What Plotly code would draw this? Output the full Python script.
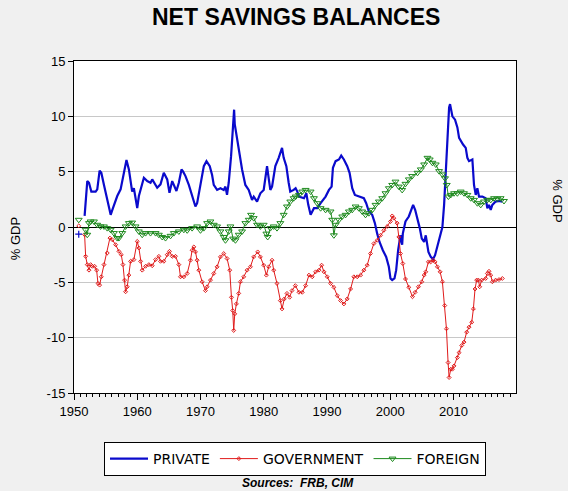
import plotly.graph_objects as go

# values (% of GDP); first point of each series is the lone early reading
private_years = [1950.75, None, 1951.68, 1952.10, 1952.37, 1952.74, 1953.42, 1953.68, 1954.05, 1954.32, 1954.74,
                 1955.10, 1955.53, 1955.80, 1956.16, 1956.84, 1957.37, 1957.90, 1958.30, 1958.68, 1959.20,
                 1959.47, 1960.00, 1960.26, 1960.79, 1961.05, 1961.58, 1962.10, 1962.37, 1963.16, 1963.68,
                 1964.20, 1964.74, 1965.10, 1965.53, 1966.20, 1966.58, 1967.00, 1967.26, 1967.63, 1968.16,
                 1968.95, 1969.20, 1969.47, 1970.00, 1970.53, 1970.95, 1971.47, 1971.84, 1972.10, 1972.63,
                 1973.16, 1973.68, 1973.95, 1974.20, 1974.47, 1974.84, 1975.16, 1975.32, 1975.42, 1975.63,
                 1975.90, 1976.32, 1976.58, 1977.10, 1977.63, 1978.16, 1978.42, 1978.95, 1979.47, 1980.00,
                 1980.26, 1980.53, 1980.79, 1981.05, 1981.32, 1981.84, 1982.37, 1982.90, 1983.16, 1983.58,
                 1983.95, 1984.20, 1984.74, 1985.05, 1985.32, 1985.58, 1986.37, 1986.74, 1987.05, 1987.42,
                 1987.95, 1988.47, 1989.00, 1989.79, 1990.32, 1990.74, 1990.95, 1991.37, 1991.90, 1992.26,
                 1992.68, 1993.21, 1993.58, 1994.00, 1994.42, 1995.05, 1995.84, 1996.21, 1996.63, 1997.16,
                 1997.58, 1997.95, 1998.32, 1998.84, 1999.37, 1999.79, 2000.05, 2000.32, 2000.68, 2000.95,
                 2001.26, 2001.63, 2001.90, 2002.00, 2002.42, 2002.95, 2003.42, 2003.63, 2003.95, 2004.32,
                 2004.68, 2005.00, 2005.37, 2005.63, 2005.79, 2006.05, 2006.42, 2006.79, 2007.10, 2007.47,
                 2007.84, 2008.26, 2008.53, 2008.79, 2009.05, 2009.32, 2009.47, 2009.84, 2010.26, 2010.63,
                 2010.90, 2011.16, 2011.53, 2011.95, 2012.21, 2012.47, 2013.00, 2013.26, 2013.53, 2013.79,
                 2014.05, 2014.58, 2015.10, 2015.37, 2015.63, 2015.90, 2016.16, 2016.68, 2017.20, 2017.74]
private_vals = [-0.65, None, 1.0, 4.15, 4.0, 3.2, 3.2, 3.4, 5.1, 4.9, 3.8,
                2.8, 1.6, 1.1, 1.7, 2.8, 3.4, 4.9, 6.05, 5.2, 3.2,
                3.5, 1.7, 2.8, 3.85, 4.45, 4.15, 4.0, 4.3, 3.55, 3.85,
                4.9, 4.3, 3.1, 4.15, 3.25, 4.0, 5.2, 5.0, 4.6, 3.8,
                2.45, 1.85, 2.15, 3.8, 5.5, 5.95, 5.5, 4.7, 3.8, 3.35,
                3.5, 3.35, 3.65, 2.9, 4.0, 6.4, 9.3, 10.6, 9.3, 8.5,
                7.9, 6.25, 5.2, 3.8, 3.35, 2.45, 2.75, 2.3, 3.05, 3.35,
                4.6, 5.5, 4.4, 3.35, 3.65, 5.5, 6.25, 7.15, 6.25, 5.5,
                4.0, 3.2, 3.35, 3.5, 3.2, 2.75, 2.6, 3.05, 2.0, 1.1,
                1.7, 1.7, 2.15, 2.75, 3.35, 3.65, 5.35, 5.95, 6.1, 6.45,
                6.1, 5.5, 4.9, 3.5, 2.9, 2.75, 2.6, 2.15, 1.4, 1.1,
                0.35, -0.6, -1.35, -2.1, -2.7, -3.6, -4.65, -4.8, -4.65, -3.9,
                -2.1, -0.75, -1.6, -0.6, 0.5, 0.95, 1.7, 2.0, 1.55, 0.8,
                -0.1, -1.05, -1.35, -0.75, -1.35, -2.25, -2.7, -2.9, -2.55, -1.65,
                -0.75, 0.0, 2.0, 5.05, 8.35, 10.8, 11.1, 10.0, 9.7, 9.0,
                8.05, 7.75, 7.45, 7.15, 6.25, 5.95, 6.1, 3.8, 2.9, 3.5,
                2.75, 2.75, 2.6, 1.7, 2.0, 1.55, 2.0, 2.3, 2.35, 2.3]

gov_years = [1950.75, None, 1951.68, 1951.84, 1952.10, 1952.37, 1952.63, 1952.90, 1953.26, 1953.58, 1953.79,
             1954.05, 1954.32, 1954.74, 1955.26, 1955.68, 1956.05, 1956.58, 1957.10, 1957.47, 1957.74,
             1958.00, 1958.16, 1958.42, 1958.68, 1958.95, 1959.47, 1960.00, 1960.26, 1960.53, 1960.79,
             1961.32, 1961.84, 1962.37, 1962.90, 1963.42, 1963.68, 1964.21, 1964.74, 1965.10, 1965.53,
             1966.05, 1966.58, 1966.84, 1967.37, 1967.90, 1968.42, 1968.68, 1968.95, 1969.21, 1969.47,
             1969.74, 1970.26, 1970.79, 1971.05, 1971.58, 1972.10, 1972.63, 1973.16, 1973.68, 1974.21,
             1974.63, 1974.90, 1975.10, 1975.26, 1975.42, 1975.68, 1976.05, 1976.32, 1976.84, 1977.37,
             1977.90, 1978.42, 1979.05, 1979.47, 1980.00, 1980.42, 1980.79, 1981.32, 1981.58, 1982.10,
             1982.63, 1982.90, 1983.26, 1983.68, 1984.10, 1984.47, 1985.00, 1985.58, 1986.10, 1986.63,
             1987.16, 1987.68, 1988.21, 1988.74, 1989.16, 1989.53, 1990.05, 1990.58, 1991.10, 1991.63,
             1992.16, 1992.68, 1993.21, 1993.74, 1994.26, 1994.79, 1995.32, 1995.84, 1996.37, 1996.89,
             1997.42, 1997.95, 1998.47, 1999.00, 1999.53, 2000.05, 2000.32, 2000.58, 2001.10, 2001.37,
             2001.63, 2002.00, 2002.42, 2002.95, 2003.53, 2003.95, 2004.47, 2005.00, 2005.37, 2005.63,
             2006.05, 2006.42, 2006.79, 2007.10, 2007.47, 2007.90, 2008.26, 2008.63, 2008.90, 2009.16,
             2009.32, 2009.58, 2009.84, 2010.10, 2010.63, 2010.90, 2011.32, 2011.68, 2012.10, 2012.47,
             2012.90, 2013.16, 2013.42, 2013.68, 2013.95, 2014.16, 2014.47, 2015.10, 2015.37, 2015.63,
             2015.90, 2016.16, 2016.68, 2017.21, 2017.74]
gov_vals = [0.1, None, -0.7, -2.65, -3.4, -3.9, -3.4, -3.55, -3.55, -3.9, -5.1,
            -5.25, -4.5, -3.4, -2.35, -1.0, -1.15, -1.6, -2.2, -2.5, -3.4,
            -4.8, -5.85, -5.4, -4.35, -3.1, -2.95, -1.3, -1.9, -3.1, -3.9,
            -3.55, -3.4, -3.5, -2.95, -2.65, -3.1, -3.1, -2.5, -2.2, -2.65,
            -2.65, -3.4, -4.5, -4.5, -4.2, -3.0, -2.1, -1.8, -2.25, -3.0,
            -3.9, -4.95, -5.75, -5.4, -4.8, -4.2, -3.6, -2.7, -2.4, -2.85,
            -3.9, -6.35, -7.55, -9.35, -7.85, -6.95, -6.0, -4.95, -4.5, -3.9,
            -3.6, -2.7, -2.25, -2.7, -3.45, -4.35, -3.6, -3.0, -3.9, -5.1,
            -6.65, -7.4, -6.5, -6.0, -6.35, -5.75, -5.3, -5.9, -5.9, -5.3,
            -4.35, -4.5, -4.05, -3.9, -3.45, -4.05, -4.5, -5.1, -5.45, -6.2,
            -6.65, -6.95, -6.5, -5.6, -4.5, -4.5, -4.35, -3.9, -3.45, -2.4,
            -1.5, -1.2, -0.75, -0.3, 0.05, 0.5, 1.0, 0.8, 0.35, -0.9,
            -2.4, -3.3, -4.7, -5.45, -6.3, -5.9, -5.4, -4.95, -4.35, -4.05,
            -3.15, -3.15, -3.0, -3.15, -3.6, -4.05, -4.95, -7.1, -9.2, -12.25,
            -13.6, -12.85, -12.85, -12.55, -11.8, -11.35, -10.7, -10.4, -9.5, -9.05,
            -8.6, -7.4, -5.6, -4.8, -4.8, -5.4, -4.8, -4.65, -4.2, -4.0,
            -4.35, -4.95, -4.8, -4.75, -4.65]

foreign_years = [1950.75, None, 1951.84, 1952.10, 1952.37, 1952.63, 1953.16, 1953.68, 1954.20, 1954.74, 1955.26,
                 1955.79, 1956.32, 1956.84, 1957.10, 1957.63, 1958.16, 1958.68, 1959.20, 1959.74, 1960.26,
                 1960.79, 1961.32, 1962.10, 1962.90, 1963.42, 1963.95, 1964.47, 1965.26, 1965.79, 1966.58,
                 1967.37, 1967.90, 1968.68, 1969.47, 1970.00, 1970.53, 1971.05, 1971.58, 1972.10, 1972.63,
                 1973.16, 1973.68, 1973.95, 1974.47, 1974.74, 1975.16, 1975.53, 1976.05, 1976.58, 1977.10,
                 1977.63, 1978.00, 1978.42, 1978.95, 1979.47, 1980.00, 1980.42, 1980.63, 1981.05, 1981.58,
                 1982.10, 1982.63, 1983.16, 1983.68, 1984.20, 1984.74, 1985.05, 1985.58, 1986.10, 1986.63,
                 1987.42, 1987.95, 1988.47, 1989.00, 1989.79, 1990.58, 1990.84, 1991.10, 1991.37, 1991.90,
                 1992.42, 1992.95, 1993.47, 1994.00, 1994.53, 1995.05, 1995.58, 1996.10, 1996.63, 1997.16,
                 1997.68, 1998.21, 1998.74, 1999.26, 1999.79, 2000.32, 2000.84, 2001.37, 2001.90, 2002.42,
                 2002.95, 2003.47, 2004.32, 2004.84, 2005.37, 2005.90, 2006.26, 2006.68, 2007.21, 2007.74,
                 2008.26, 2008.68, 2008.95, 2009.21, 2009.58, 2010.10, 2010.63, 2011.16, 2011.68, 2012.21,
                 2012.74, 2013.26, 2013.79, 2014.32, 2014.84, 2015.37, 2015.90, 2016.42, 2016.95, 2017.47,
                 2018.00]
foreign_vals = [0.65, None, -0.25, -0.7, 0.35, 0.5, 0.5, 0.2, 0.05, 0.05, -0.1,
                -0.25, -0.55, -1.0, -1.0, -0.55, 0.05, 0.35, 0.4, 0.05, -0.4,
                -0.7, -0.55, -0.55, -0.55, -0.7, -0.9, -1.0, -0.8, -0.55, -0.4,
                -0.25, -0.3, -0.1, 0.05, -0.3, -0.1, 0.35, 0.5, 0.2, 0.05,
                -0.4, -0.9, -1.2, -0.4, 0.05, -1.05, -1.2, -0.7, -0.4, 0.35,
                0.65, 1.1, 0.8, 0.2, 0.05, 0.2, -0.6, -0.9, -0.1, 0.05,
                -0.1, 0.35, 1.1, 1.85, 2.3, 2.6, 2.75, 2.9, 3.2, 3.35,
                3.2, 2.6, 2.15, 1.7, 1.55, 1.4, 0.65, -0.75, 0.2, 0.65,
                0.95, 1.1, 1.4, 1.55, 1.85, 1.7, 1.4, 1.1, 1.25, 1.55,
                2.0, 2.3, 2.6, 3.05, 3.5, 3.8, 4.1, 3.65, 3.35, 3.9,
                4.3, 4.6, 4.9, 5.2, 5.65, 6.25, 6.1, 5.8, 5.65, 5.05,
                4.75, 4.4, 3.8, 2.75, 2.9, 3.05, 3.05, 3.2, 3.05, 2.9,
                2.6, 2.45, 2.15, 2.0, 2.3, 2.45, 2.45, 2.6, 2.55, 2.6,
                2.35]

x_ticks = [1950, 1960, 1970, 1980, 1990, 2000, 2010]
y_ticks = [-15, -10, -5, 0, 5, 10, 15]
y_labels = ["-15", "-10", "-5", "0", "5", "10", "15"]

FONT = "Liberation Sans"
BLUE = "#0A0ACC"
RED = "#E01B1B"
GREEN = "#1E8A1E"

fig = go.Figure()

fig.add_trace(go.Scatter(
    x=private_years, y=private_vals, name="PRIVATE", mode="lines",
    line=dict(color=BLUE, width=2.2),
))
# lone first reading of PRIVATE shows as a small mark
fig.add_trace(go.Scatter(
    x=private_years[:1], y=private_vals[:1], mode="markers", showlegend=False,
    marker=dict(symbol="cross-thin", size=5, line=dict(color=BLUE, width=1.2)),
))
fig.add_trace(go.Scatter(
    x=gov_years, y=gov_vals, name="GOVERNMENT", mode="lines+markers",
    line=dict(color=RED, width=1),
    marker=dict(symbol="diamond-open", size=3, color=RED, line=dict(width=1)),
))
fig.add_trace(go.Scatter(
    x=foreign_years, y=foreign_vals, name="FOREIGN", mode="lines+markers",
    line=dict(color=GREEN, width=1),
    marker=dict(symbol="triangle-down-open", size=6, color=GREEN, line=dict(width=1)),
))

fig.update_layout(
    width=568, height=491,
    margin=dict(l=73.5, r=52, t=61, b=98),
    paper_bgcolor="#F0F0F0",
    plot_bgcolor="white",
    font=dict(family=FONT, size=13, color="black"),
    showlegend=True,
    legend=dict(
        orientation="h", x=0.5, xanchor="center", y=-0.1476, yanchor="top",
        bgcolor="white", bordercolor="black", borderwidth=1,
        font=dict(family="DejaVu Sans", size=14, color="black"),
        itemwidth=38, traceorder="normal",
    ),
    annotations=[
        dict(text="<b>NET SAVINGS BALANCES</b>", xref="paper", yref="paper",
             x=0.502, y=1.132, xanchor="center", yanchor="middle", showarrow=False,
             font=dict(family=FONT, size=23, color="black")),
        dict(text="% GDP", xref="paper", yref="paper", x=-0.132, y=0.465,
             textangle=-90, showarrow=False, xanchor="center", yanchor="middle",
             font=dict(family=FONT, size=13, color="black")),
        dict(text="% GDP", xref="paper", yref="paper", x=1.093, y=0.58,
             textangle=90, showarrow=False, xanchor="center", yanchor="middle",
             font=dict(family=FONT, size=13, color="black")),
        dict(text="<b><i>Sources:  FRB, CIM</i></b>", xref="paper", yref="paper",
             x=0.507, y=-0.272, xanchor="center", yanchor="middle", showarrow=False,
             font=dict(family=FONT, size=12, color="black")),
    ],
)

fig.update_xaxes(
    range=[1950, 2019.9], tickvals=x_ticks, ticktext=[str(t) for t in x_ticks],
    ticks="outside", ticklen=6, tickcolor="black",
    minor=dict(dtick=1, tick0=1950, ticks="outside", ticklen=3, tickcolor="black", showgrid=False),
    showgrid=False, zeroline=False,
    showline=True, mirror=True, linecolor="black", linewidth=1,
    tickfont=dict(family=FONT, size=13),
)
fig.update_yaxes(
    range=[-15, 15], tickvals=y_ticks, ticktext=y_labels, ticks="outside", ticklen=5, tickcolor="black",
    showgrid=True, gridcolor="#C8C8C8", gridwidth=1,
    zeroline=True, zerolinecolor="black", zerolinewidth=1,
    showline=True, mirror=True, linecolor="black", linewidth=1,
    tickfont=dict(family=FONT, size=13),
)

# page body has a default 8px margin; drop it so the figure sits at the window corner
fig.write_html("out.html", config={"displayModeBar": False},
               post_script="document.body.style.margin='0px';")
